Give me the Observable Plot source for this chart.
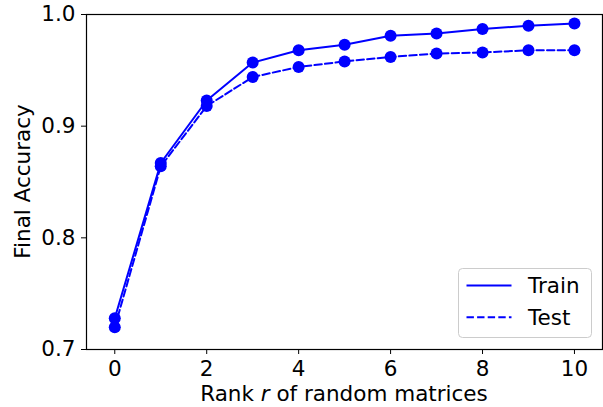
<!DOCTYPE html>
<html><head><meta charset="utf-8">
<script src="https://cdn.jsdelivr.net/npm/d3@7"></script>
<script src="https://cdn.jsdelivr.net/npm/@observablehq/plot@0.6"></script>
<style>
body{margin:0;background:#fff}
#chart svg{font-family:"DejaVu Sans",sans-serif}
</style>
</head><body><div id="chart"></div>
<script>
const ranks = [0, 1, 2, 3, 4, 5, 6, 7, 8, 9, 10];
const trainAcc = [0.728, 0.867, 0.923, 0.957, 0.968, 0.973, 0.981, 0.983, 0.987, 0.990, 0.992];
const testAcc = [0.720, 0.864, 0.918, 0.944, 0.953, 0.958, 0.962, 0.965, 0.966, 0.968, 0.968];
const xTicks = [0, 2, 4, 6, 8, 10];
const yTicks = [0.7, 0.8, 0.9, 1.0];
const seriesNames = ["Train", "Test"];

const train = ranks.map((r, i) => ({r, acc: trainAcc[i]}));
const test = ranks.map((r, i) => ({r, acc: testAcc[i]}));
const blue = "#0000ff";
const fs = "21.5px";

const plot = Plot.plot({
  width: 603,
  height: 407,
  marginLeft: 86,
  marginRight: 1,
  marginTop: 14,
  marginBottom: 58,
  style: {fontFamily: "DejaVu Sans, sans-serif", fontSize: fs, color: "#000", background: "#fff"},
  x: {domain: [-0.615, 10.61], ticks: xTicks, tickFormat: d => String(d), label: null},
  y: {domain: [0.7, 1.0], ticks: yTicks, tickFormat: d3.format(".1f"), label: null},
  marks: [
    Plot.axisX({ticks: xTicks, tickSize: 5, tickPadding: 6, tickFormat: d => String(d), fontSize: fs, label: null}),
    Plot.axisY({ticks: yTicks, tickSize: 5, tickPadding: 6, tickFormat: d3.format(".1f"), fontSize: fs, label: null}),
    Plot.line(train, {x: "r", y: "acc", stroke: blue, strokeWidth: 2}),
    Plot.line(test, {x: "r", y: "acc", stroke: blue, strokeWidth: 2, strokeDasharray: "7.4,3.2"}),
    Plot.dot(train, {x: "r", y: "acc", r: 6, fill: blue, stroke: "none"}),
    Plot.dot(test, {x: "r", y: "acc", r: 6, fill: blue, stroke: "none"}),
    Plot.frame({stroke: "#000", strokeWidth: 1.2})
  ]
});
document.getElementById("chart").appendChild(plot);

const svg = d3.select(plot);
const textStyle = sel => sel.attr("fill", "#000")
  .style("font-size", fs).style("font-family", "DejaVu Sans, sans-serif");

// axis labels
const xl = svg.append("text")
  .attr("x", 86 + (603 - 1 - 86) / 2).attr("y", 401)
  .attr("text-anchor", "middle").call(textStyle);
xl.append("tspan").text("Rank ");
xl.append("tspan").attr("font-style", "italic").text("r");
xl.append("tspan").text(" of random matrices");

svg.append("text")
  .attr("transform", `translate(30,${14 + (349 - 14) / 2}) rotate(-90)`)
  .attr("text-anchor", "middle").call(textStyle)
  .text("Final Accuracy");

// legend
const lg = svg.append("g");
lg.append("rect").attr("x", 458.5).attr("y", 268.5).attr("width", 133).attr("height", 69)
  .attr("rx", 4).attr("fill", "#fff").attr("fill-opacity", 0.8)
  .attr("stroke", "#cccccc").attr("stroke-width", 1);
seriesNames.forEach((name, i) => {
  const cy = 285.5 + i * 31.7;
  lg.append("line").attr("x1", 466.5).attr("x2", 511.5).attr("y1", cy).attr("y2", cy)
    .attr("stroke", blue).attr("stroke-width", 2)
    .attr("stroke-dasharray", i === 1 ? "7.4,3.2" : null);
  lg.append("text").attr("x", 528).attr("y", cy + 7.8)
    .attr("text-anchor", "start").call(textStyle).text(name);
});
</script>
</body></html>
